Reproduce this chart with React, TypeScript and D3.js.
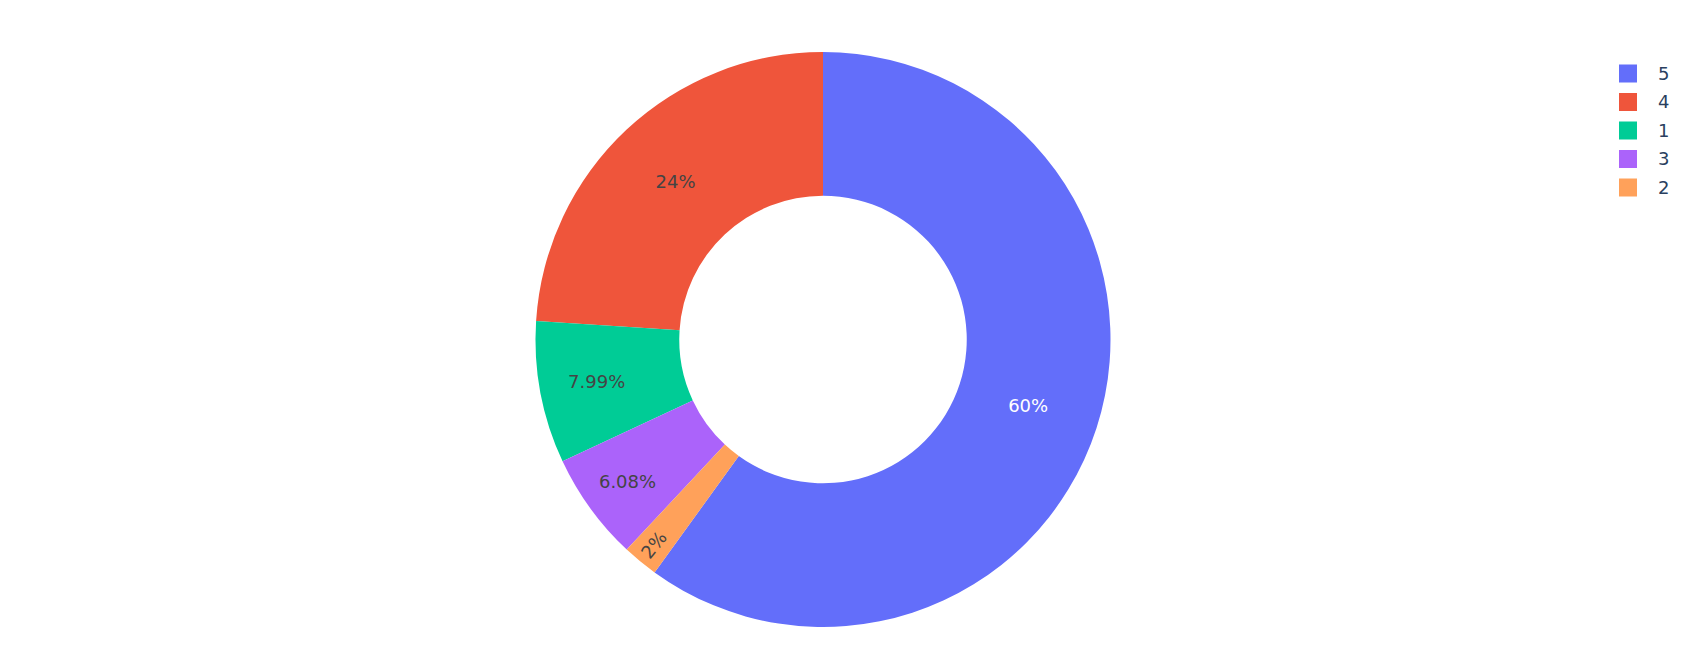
import React from "react";
import * as d3 from "d3";

// ---- data ----
const categories: string[] = ["5", "4", "1", "3", "2"];
const values: number[] = [59.96, 23.97, 7.99, 6.08, 2.0];
const colors: string[] = ["#636efa", "#EF553B", "#00cc96", "#ab63fa", "#FFA15A"];

// ---- layout ----
const W = 1693;
const H = 646;
const CX = 823;
const CY = 339.5;
const R = 287.5;
const HOLE = 0.5;
const FONT = 18;
const FONT_FAMILY = "'DejaVu Sans', Verdana, sans-serif";
const TEXT_PAD = 4.5;
const TEXT_H = FONT * 1.164;
const LEGEND_X = 1628;
const LEGEND_Y0 = 73.5;
const LEGEND_STEP = 28.5;
const LEGEND_SYM = 18;

let _ctx: CanvasRenderingContext2D | null = null;
function measure(text: string): number {
  if (!_ctx) {
    const c = document.createElement("canvas");
    _ctx = c.getContext("2d");
  }
  if (!_ctx) return text.length * FONT * 0.636;
  _ctx.font = `${FONT}px ${FONT_FAMILY}`;
  return _ctx.measureText(text).width;
}

function formatPct(v: number): string {
  let s = (v * 100).toPrecision(3);
  if (s.lastIndexOf(".") !== -1) s = s.replace(/[.]?0+$/, "");
  return s + "%";
}

function contrast(c: string): string {
  const rgb = d3.rgb(c);
  const b = (rgb.r * 299 + rgb.g * 587 + rgb.b * 114) / 1000;
  return b < 128 ? "#ffffff" : "#444444";
}

function calcMaxHalfSize(a: number, halfAngle: number, r: number, ring: number) {
  const q = a + 1 / (2 * Math.tan(halfAngle));
  return r * Math.min(1 / (Math.sqrt(q * q + 0.5) + q), ring / (Math.sqrt(a * a + ring / 2) + a));
}
function calcRCenter(a: number, b: number) {
  return Math.cos(b) - a * b;
}
function calcRotate(t: number) {
  return ((180 / Math.PI) * t + 720) % 180 - 90;
}

type Tr = { scale: number; rCenter: number; rotate: number };

function insideTransform(w: number, h: number, frac: number, halfAngle: number, midAngle: number): Tr {
  const ring = 1 - HOLE;
  const limit = Math.PI * Math.min(frac, 0.5);
  const rIns = Math.min(1 / (1 + 1 / Math.sin(limit)), ring / 2);
  const diag = Math.sqrt(w * w + h * h);
  const horiz: Tr = { scale: (rIns * R * 2) / diag, rCenter: 1 - rIns, rotate: 0 };
  if (horiz.scale >= 1) return horiz;
  const all: Tr[] = [horiz];
  const rr = Math.max(0, R - 2 * TEXT_PAD);
  {
    const a = w / h;
    const s = calcMaxHalfSize(a, halfAngle, rr, ring);
    all.push({ scale: (s * 2) / h, rCenter: calcRCenter(a, s / rr), rotate: calcRotate(midAngle) });
  }
  {
    const a = h / w;
    const s = calcMaxHalfSize(a, halfAngle, rr, ring);
    all.push({ scale: (s * 2) / w, rCenter: calcRCenter(a, s / rr), rotate: calcRotate(midAngle + Math.PI / 2) });
  }
  let best = all[0];
  for (const t of all) if (t.scale > best.scale) best = t;
  return best;
}

export default function App() {
  const items = categories
    .map((c, i) => ({ cat: c, value: values[i], color: colors[i] }))
    .sort((a, b) => d3.descending(a.value, b.value));
  const total = d3.sum(items, (d) => d.value);
  const a0 = (2 * Math.PI * items[0].value) / total;

  const pie = d3
    .pie<{ cat: string; value: number; color: string }>()
    .sort(null)
    .value((d) => d.value)
    .startAngle(a0)
    .endAngle(a0 - 2 * Math.PI);
  const arcs = pie(items);
  const arcGen = d3
    .arc<d3.PieArcDatum<{ cat: string; value: number; color: string }>>()
    .innerRadius(R * HOLE)
    .outerRadius(R);

  return (
    <svg
      width={W}
      height={H}
      style={{ position: "absolute", left: 0, top: 0, background: "#fff" }}
      fontFamily={FONT_FAMILY}
    >
      <g transform={`translate(${CX},${CY})`}>
        {arcs.map((a) => (
          <path key={a.data.cat} d={arcGen(a) || ""} fill={a.data.color} />
        ))}
        {arcs.map((a) => {
          const frac = a.data.value / total;
          const label = formatPct(frac);
          const w = measure(label);
          const mid = (a.startAngle + a.endAngle) / 2;
          const half = Math.abs(a.endAngle - a.startAngle) / 2;
          const t = insideTransform(w, TEXT_H, frac, half, mid);
          const sc = Math.min(1, t.scale);
          const x = Math.sin(mid) * R * t.rCenter;
          const y = -Math.cos(mid) * R * t.rCenter;
          return (
            <text
              key={"t" + a.data.cat}
              transform={`translate(${x},${y}) rotate(${t.rotate}) scale(${sc})`}
              textAnchor="middle"
              dy="0.346em"
              fontSize={FONT}
              fill={contrast(a.data.color)}
            >
              {label}
            </text>
          );
        })}
      </g>
      <g>
        {categories.map((c, i) => {
          const y = LEGEND_Y0 + i * LEGEND_STEP;
          return (
            <g key={"l" + c} transform={`translate(${LEGEND_X},${y})`}>
              <rect
                x={-LEGEND_SYM / 2}
                y={-LEGEND_SYM / 2}
                width={LEGEND_SYM}
                height={LEGEND_SYM}
                fill={colors[i]}
              />
              <text x={30} dy="0.36em" fontSize={FONT} fill="#2a3f5f">
                {c}
              </text>
            </g>
          );
        })}
      </g>
    </svg>
  );
}
